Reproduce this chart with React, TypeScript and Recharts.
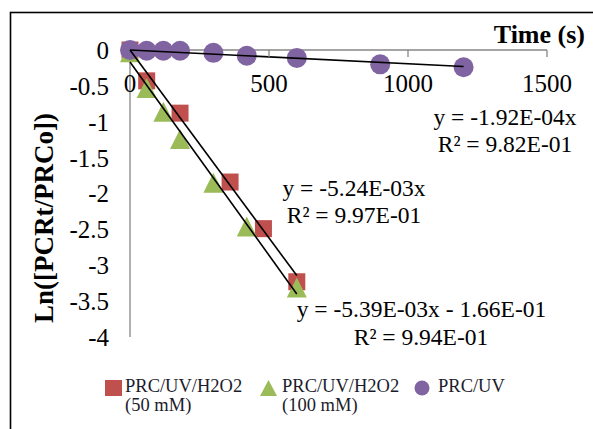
import React from "react";
import { ScatterChart, Scatter, XAxis, YAxis } from "recharts";

const serif = '"Liberation Serif", "Times New Roman", serif';
const axisGray = "#868686";

// series
const timeH2O2_50 = [0, 60, 180, 360, 480, 600];
const lnH2O2_50 = [0, -0.43, -0.88, -1.84, -2.49, -3.23];

const timeH2O2_100 = [0, 60, 120, 180, 300, 420, 600];
const lnH2O2_100 = [-0.03, -0.53, -0.86, -1.24, -1.85, -2.46, -3.31];

const timeUV = [0, 60, 120, 180, 300, 420, 600, 900, 1200];
const lnUV = [0, -0.01, -0.01, -0.01, -0.04, -0.08, -0.11, -0.2, -0.24];

const xTicks = [0, 500, 1000, 1500];
const yTicks = [0, -0.5, -1, -1.5, -2, -2.5, -3, -3.5, -4];

const seriesNames = ["PRC/UV/H2O2", "PRC/UV/H2O2", "PRC/UV"];
const seriesSub = ["(50 mM)", "(100 mM)", ""];

// trendline equations as printed on the chart
const fit50 = { slope: -5.24e-3, intercept: 0, end: 600 };
const fit100 = { slope: -5.39e-3, intercept: -0.166, end: 600 };
const fitUV = { slope: -1.92e-4, intercept: 0, end: 1200 };

const RED = "#C0504D";
const GREEN = "#9BBB59";
const PURPLE = "#8064A2";

const toPoints = (xs: number[], ys: number[]) => xs.map((x, i) => ({ x, y: ys[i] }));
const fitLine = (f: { slope: number; intercept: number; end: number }) => [
  { x: 0, y: f.intercept },
  { x: f.end, y: f.slope * f.end + f.intercept },
];

const Square = (p: any) => <rect x={p.cx - 8.5} y={p.cy - 8.5} width={17} height={17} fill={RED} />;
const Triangle = (p: any) => (
  <polygon
    points={`${p.cx},${p.cy - 10} ${p.cx + 10},${p.cy + 10} ${p.cx - 10},${p.cy + 10}`}
    fill={GREEN}
  />
);
const Dot = (p: any) => <circle cx={p.cx} cy={p.cy} r={10} fill={PURPLE} />;
const NoMark = () => <g />;

const XTick = (props: any) => {
  const { x, y, payload } = props;
  return (
    <g>
      {payload.value !== 0 && <line x1={x} x2={x} y1={y} y2={y + 7} stroke={axisGray} strokeWidth={1.3} />}
      <text x={x} y={y + 42} textAnchor="middle" fontSize={25} fontFamily={serif} fill="#000">
        {payload.value}
      </text>
    </g>
  );
};

export default function App() {
  const eqStyle = { fontSize: 23.5, fontFamily: serif, fill: "#000" };
  const legStyle = { fontSize: 18.5, fontFamily: serif, fill: "#1c1c2c" };
  return (
    <div style={{ position: "fixed", left: 0, top: 0, width: 593, height: 429, background: "#fff" }}>
      <ScatterChart width={593} height={429} margin={{ top: 20, right: 46, bottom: 92, left: 0 }}>
        <XAxis
          type="number"
          dataKey="x"
          orientation="top"
          height={30}
          domain={[0, 1500]}
          ticks={xTicks}
          interval={0}
          tick={<XTick />}
          tickLine={false}
          tickSize={0}
          tickMargin={0}
          axisLine={{ stroke: axisGray, strokeWidth: 1.3 }}
        />
        <YAxis
          type="number"
          dataKey="y"
          width={130}
          domain={[-4, 0]}
          ticks={yTicks}
          interval={0}
          tickLine={false}
          tickSize={0}
          tickMargin={21}
          tick={{ fontSize: 25, fontFamily: serif, fill: "#000" }}
          axisLine={{ stroke: axisGray, strokeWidth: 1.3 }}
        />
        <Scatter data={toPoints(timeH2O2_50, lnH2O2_50)} shape={Square} isAnimationActive={false} />
        <Scatter data={toPoints(timeH2O2_100, lnH2O2_100)} shape={Triangle} isAnimationActive={false} />
        <Scatter data={toPoints(timeUV, lnUV)} shape={Dot} isAnimationActive={false} />
        <Scatter data={fitLine(fit50)} line={{ stroke: "#000", strokeWidth: 1.6 }} shape={NoMark} isAnimationActive={false} />
        <Scatter data={fitLine(fit100)} line={{ stroke: "#000", strokeWidth: 1.6 }} shape={NoMark} isAnimationActive={false} />
        <Scatter data={fitLine(fitUV)} line={{ stroke: "#000", strokeWidth: 1.6 }} shape={NoMark} isAnimationActive={false} />
      </ScatterChart>
      <svg
        width={593}
        height={429}
        style={{ position: "absolute", left: 0, top: 0, pointerEvents: "none" }}
      >
        <rect x={10.5} y={12.5} width={640} height={480} fill="none" stroke="#000" strokeWidth={1.6} />
        <text x={585} y={43} textAnchor="end" fontSize={26} fontWeight="bold" fontFamily={serif}>
          Time (s)
        </text>
        <text
          x={53}
          y={218}
          textAnchor="middle"
          fontSize={27}
          fontWeight="bold"
          fontFamily={serif}
          transform="rotate(-90 53 218)"
        >
          Ln([PCRt/PRCo])
        </text>
        <text x={505} y={125} textAnchor="middle" {...eqStyle}>y = -1.92E-04x</text>
        <text x={505} y={152} textAnchor="middle" {...eqStyle}>R² = 9.82E-01</text>
        <text x={354} y={196} textAnchor="middle" {...eqStyle}>y = -5.24E-03x</text>
        <text x={354} y={223} textAnchor="middle" {...eqStyle}>R² = 9.97E-01</text>
        <text x={421.5} y={317} textAnchor="middle" {...eqStyle}>y = -5.39E-03x - 1.66E-01</text>
        <text x={421} y={345} textAnchor="middle" {...eqStyle}>R² = 9.94E-01</text>

        <rect x={105} y={380} width={17} height={16} fill={RED} />
        <text x={125} y={392} {...legStyle}>{seriesNames[0]}</text>
        <text x={125} y={411} {...legStyle}>{seriesSub[0]}</text>

        <polygon points="268.5,380 277,396 260,396" fill={GREEN} />
        <text x={282} y={392} {...legStyle}>{seriesNames[1]}</text>
        <text x={282} y={411} {...legStyle}>{seriesSub[1]}</text>

        <circle cx={422} cy={388} r={7.5} fill={PURPLE} />
        <text x={438} y={392} {...legStyle}>{seriesNames[2]}</text>
      </svg>
    </div>
  );
}
